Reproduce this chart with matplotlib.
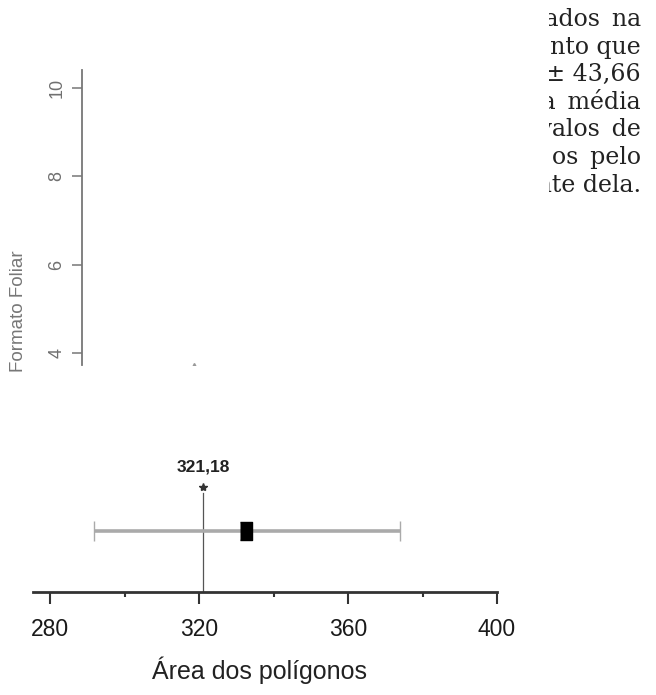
import matplotlib
matplotlib.use("Agg")
import matplotlib.pyplot as plt
from matplotlib.ticker import FixedLocator

# -------------------------------------------------
# Data
# -------------------------------------------------
x_major = [280, 320, 360, 400]
x_minor = [300, 340, 380]
ref_value = 321.18
ref_label = "321,18"
area_mean = 332.6
ci_low = 291.9
ci_high = 374.0

top_yticks = [4, 6, 8, 10]
top_pts_x = [2.4]
top_pts_y = [3.63]

text_lines = [
    "analisados\u2002na",
    "momento que",
    "332,63 \u00b1 43,66",
    "sendo\u2002a\u2002média",
    "os intervalos\u2002de",
    "todos\u2002os\u2002pelo",
    "adiante dela.",
]

W, H = 656, 695
SANS = ["Liberation Sans", "DejaVu Sans"]


def px_rect(l, t, r, b):
    return [l / W, 1 - b / H, (r - l) / W, (b - t) / H]


fig = plt.figure(figsize=(W / 100, H / 100), dpi=100)

# -------------------------------------------------
# Page text on the right (cut on its left side)
# -------------------------------------------------
ax_txt = fig.add_axes(px_rect(549, 0, 656, 200))
ax_txt.axis("off")
for i, line in enumerate(text_lines):
    base = 26 + 27.6 * i
    ax_txt.text((641 - 549) / 107, 1 - base / 200, line,
                transform=ax_txt.transAxes, ha="right", va="baseline",
                fontsize=17, family="DejaVu Serif", color="#222222",
                clip_on=True)

# -------------------------------------------------
# Top-left fragment of another plot
# -------------------------------------------------
ax_top = fig.add_axes(px_rect(82, 70, 549, 365))
ax_top.set_xlim(0, 10)
ax_top.set_ylim(3.73, 10.41)
for s in ["top", "right", "bottom"]:
    ax_top.spines[s].set_visible(False)
ax_top.spines["left"].set_color("#777777")
ax_top.spines["left"].set_linewidth(1.3)
ax_top.set_xticks([])
ax_top.set_yticks(top_yticks)
ax_top.tick_params(axis="y", length=7, width=1.1, color="#777777",
                   labelcolor="#707070", labelsize=13, pad=5)
for lab in ax_top.get_yticklabels():
    lab.set_rotation(90)
    lab.set_va("center")
    lab.set_family(SANS)
ax_top.plot(top_pts_x, top_pts_y, marker="^", ms=8, color="#999999",
            linestyle="none")
fig.text(19 / W, 1 - 311 / H, "Formato Foliar", rotation=90,
         ha="center", va="center", fontsize=13.5, color="#777777",
         family=SANS)

# -------------------------------------------------
# Bottom plot: interval of the polygon area
# -------------------------------------------------
ax = fig.add_axes(px_rect(33, 452, 497, 592))
ax.set_xlim(275.4, 400)
ax.set_ylim(0, 2.3)
for s in ["top", "right", "left"]:
    ax.spines[s].set_visible(False)
ax.spines["bottom"].set_color("#333333")
ax.spines["bottom"].set_linewidth(2)
ax.set_yticks([])
ax.xaxis.set_major_locator(FixedLocator(x_major))
ax.xaxis.set_minor_locator(FixedLocator(x_minor))
ax.tick_params(axis="x", which="major", length=8.5, width=1.5,
               color="#333333", labelsize=16.5, pad=10, labelcolor="#1a1a1a")
ax.tick_params(axis="x", which="minor", length=3.6, width=1.5,
               color="#333333")
for lab in ax.get_xticklabels():
    lab.set_family(SANS)

# reference line with its value
ax.plot([ref_value, ref_value], [0, 1.62], color="#555555", lw=0.9)
ax.plot([ref_value], [1.72], marker="*", ms=6, color="#333333",
        linestyle="none")
ax.text(ref_value, 2.05, ref_label, ha="center", va="center",
        fontsize=12.5, fontweight="bold", family=SANS, color="#222222")

# interval with mean
ax.errorbar([area_mean], [1], xerr=[[area_mean - ci_low], [ci_high - area_mean]],
            fmt="none", ecolor="#aaaaaa", elinewidth=2.6, capsize=7.5,
            capthick=1.0)
rect_marker = [(-0.35, -0.5), (0.35, -0.5), (0.35, 0.5), (-0.35, 0.5)]
ax.plot([area_mean], [1], marker=rect_marker, ms=13, color="black",
        linestyle="none")

fig.text(259 / W, 1 - 670 / H, "Área dos polígonos", ha="center",
         va="center", fontsize=18, family=SANS, color="#222222")

fig.savefig("out.png", dpi=100)
